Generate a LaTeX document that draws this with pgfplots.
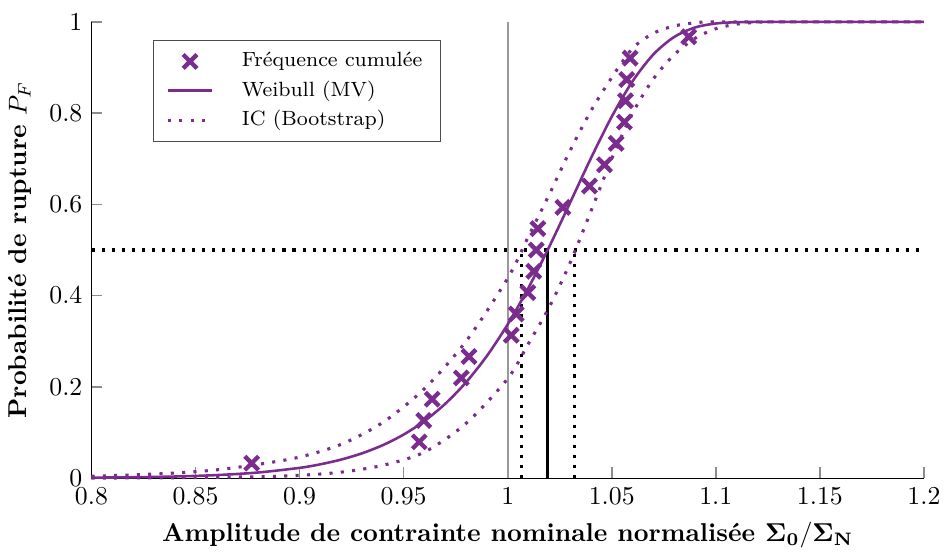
\documentclass[border=0pt]{standalone}
\usepackage{pgfplots}
\pgfplotsset{compat=1.18}
\usepackage{amsmath}
\definecolor{violetc}{RGB}{123,45,142}
\begin{document}
\begin{tikzpicture}
\begin{axis}[
  scale only axis,
  width=323pt, height=177pt,
  xmin=0.8, xmax=1.2, ymin=0, ymax=1,
  axis x line*=bottom, axis y line*=left,
  tick align=inside,
  major tick style={black!45, line width=0.6pt},
  xtick={0.8,0.85,...,1.2},
  ytick={0,0.2,...,1},
  xticklabels={0.8,0.85,0.9,0.95,1,1.05,1.1,1.15,1.2},
  xlabel={\textbf{Amplitude de contrainte nominale normalisée $\mathbf{\Sigma_0/\Sigma_N}$}},
  ylabel={\textbf{Probabilité de rupture $P_F$}},
  legend style={font=\footnotesize, at={(0.074,0.96)}, anchor=north west, draw=black!70, cells={anchor=west}, row sep=0pt, inner xsep=5pt, inner ysep=2.5pt},
  clip=false,
]
\addlegendimage{only marks, mark=x, mark size=3.8pt, violetc, mark options={line width=1.7pt}}
\addlegendentry{\hspace*{9pt}Fréquence cumulée}
\addlegendimage{violetc, line width=1pt}
\addlegendentry{\hspace*{9pt}Weibull (MV)}
\addlegendimage{violetc, line width=1.2pt, dash pattern=on 1.2pt off 3.2pt}
\addlegendentry{\hspace*{9pt}IC (Bootstrap)}

% reference line x=1
\addplot[forget plot, black!40, line width=0.7pt] coordinates {(1,0) (1,1)};
% median lines
\addplot[forget plot, black, line width=1.2pt, dash pattern=on 1.2pt off 2.7pt] coordinates {(0.8,0.5) (1.2,0.5)};
\addplot[forget plot, black, line width=1.2pt, dash pattern=on 1.2pt off 2.7pt] coordinates {(1.0067,0) (1.0067,0.5)};
\addplot[forget plot, black, line width=1.2pt, dash pattern=on 1.2pt off 2.7pt] coordinates {(1.0321,0) (1.0321,0.5)};
\addplot[forget plot, black, line width=1.2pt] coordinates {(1.0192,0) (1.0192,0.5)};

% IC upper
\addplot[forget plot, violetc, line width=1.2pt, dash pattern=on 1.2pt off 3.2pt, smooth] coordinates {
(0.80,0.004)(0.82,0.007)(0.84,0.011)(0.86,0.018)(0.88,0.030)(0.90,0.046)(0.92,0.074)(0.94,0.122)(0.96,0.196)(0.98,0.300)(1.00,0.438)(1.01,0.530)(1.02,0.622)(1.03,0.718)(1.04,0.805)(1.05,0.878)(1.06,0.942)(1.07,0.975)(1.08,0.991)(1.09,0.998)(1.10,1.0)(1.15,1.0)(1.2,1.0)};
% IC lower
\addplot[forget plot, violetc, line width=1.2pt, dash pattern=on 1.2pt off 3.2pt, smooth] coordinates {
(0.80,0.0002)(0.84,0.0007)(0.88,0.003)(0.90,0.006)(0.92,0.013)(0.94,0.028)(0.96,0.057)(0.98,0.120)(1.00,0.218)(1.01,0.295)(1.02,0.375)(1.03,0.472)(1.04,0.585)(1.05,0.700)(1.06,0.800)(1.07,0.875)(1.08,0.928)(1.09,0.964)(1.10,0.985)(1.11,0.995)(1.12,0.999)(1.13,1.0)(1.2,1.0)};
% Weibull MV
\addplot[forget plot, violetc, line width=1pt, smooth] coordinates {
(0.80,0.0009)(0.82,0.0018)(0.84,0.0034)(0.86,0.0065)(0.88,0.0122)(0.90,0.0224)(0.91,0.0302)(0.92,0.0406)(0.93,0.0543)(0.94,0.0722)(0.95,0.0954)(0.96,0.1251)(0.97,0.1629)(0.98,0.2100)(0.99,0.2677)(1.00,0.3369)(1.01,0.4173)(1.02,0.5075)(1.03,0.6039)(1.04,0.7012)(1.05,0.7923)(1.06,0.8699)(1.07,0.9287)(1.08,0.9670)(1.09,0.9877)(1.10,0.9965)(1.11,0.9993)(1.12,0.9999)(1.14,1)(1.2,1)};
% data
\addplot[forget plot, only marks, mark=x, mark size=3.8pt, violetc, mark options={line width=1.7pt}] coordinates {
(0.8770,0.0327)(0.9575,0.0794)(0.9597,0.1262)(0.9637,0.1729)(0.9777,0.2196)(0.9814,0.2664)(1.0017,0.3131)(1.0041,0.3598)(1.0097,0.4065)(1.0125,0.4533)(1.0137,0.5)(1.0145,0.5467)(1.0265,0.5935)(1.0393,0.6402)(1.0465,0.6869)(1.0521,0.7336)(1.0561,0.7804)(1.0566,0.8271)(1.0572,0.8738)(1.0588,0.9206)(1.0870,0.9673)};
\end{axis}
\path ([yshift=8.5pt]current axis.north);
\end{tikzpicture}
\end{document}
